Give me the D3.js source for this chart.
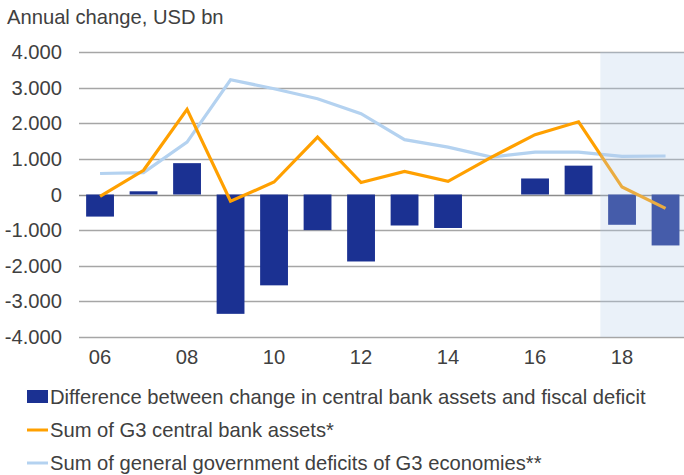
<!DOCTYPE html>
<html><head><meta charset="utf-8">
<script src="https://cdn.jsdelivr.net/npm/d3@7"></script>
<style>body{margin:0;background:#fff}svg{display:block}text{font-family:"Liberation Sans",Arial,sans-serif;fill:#404040}</style>
</head><body>
<script>
const years = ["06","07","08","09","10","11","12","13","14","15","16","17","18","19"];
const diffValues = [-620, 90, 880, -3350, -2550, -1000, -1880, -870, -940, 0, 450, 810, -850, -1430];
const cbAssets = [-50, 680, 2390, -190, 350, 1610, 335, 650, 370, 1050, 1680, 2040, 210, -390];
const govDeficits = [590, 615, 1470, 3220, 2970, 2690, 2270, 1540, 1330, 1050, 1190, 1190, 1070, 1080];
const yTicks = [4000, 3000, 2000, 1000, 0, -1000, -2000, -3000, -4000];
const yTickLabels = ["4.000","3.000","2.000","1.000","0","-1.000","-2.000","-3.000","-4.000"];
const xTickLabels = ["06","08","10","12","14","16","18"];
const forecastYears = ["18","19"];
const legendLabels = ["Difference between change in central bank assets and fiscal deficit","Sum of G3 central bank assets*","Sum of general government deficits of G3 economies**"];

const W = 684, H = 475, FS = 20.2;
const svg = d3.select("body").append("svg").attr("width", W).attr("height", H);
const x = d3.scaleBand().domain(years).range([78.3, 687.3]).paddingInner(0.36).paddingOuter(0.18);
const y = d3.scaleLinear().domain([-4000, 4000]).range([337, 52]);
const cx = d => x(d) + x.bandwidth() / 2;

svg.append("text").attr("x", 7).attr("y", 24).attr("font-size", FS).text("Annual change, USD bn");

// gridlines
svg.append("g").selectAll("line").data(yTicks).join("line")
  .attr("x1", 79).attr("x2", W).attr("y1", d => Math.round(y(d)) + 0.5).attr("y2", d => Math.round(y(d)) + 0.5)
  .attr("stroke", d => d === 0 ? "#8c8c8c" : "#a6a6a6").attr("stroke-width", 1.3);

svg.append("g").selectAll("text").data(yTicks).join("text")
  .attr("x", 62).attr("y", d => y(d) + 7).attr("text-anchor", "end").attr("font-size", FS)
  .text((d, i) => yTickLabels[i]);

svg.append("g").selectAll("text").data(xTickLabels).join("text")
  .attr("x", d => cx(d)).attr("y", 364).attr("text-anchor", "middle").attr("font-size", FS).text(d => d);

// bars
svg.append("g").selectAll("rect").data(years.map((yr, i) => ({yr, v: diffValues[i]})).filter(d => d.v !== 0)).join("rect")
  .attr("x", d => x(d.yr)).attr("width", x.bandwidth())
  .attr("y", d => y(Math.max(0, d.v))).attr("height", d => Math.abs(y(d.v) - y(0)))
  .attr("fill", "#1b3192");

const line = vals => d3.line().x((d, i) => cx(years[i])).y(d => y(d))(vals);
svg.append("path").attr("d", line(govDeficits)).attr("fill", "none").attr("stroke", "#b4d2f0").attr("stroke-width", 3.2);
svg.append("path").attr("d", line(cbAssets)).attr("fill", "none").attr("stroke", "#ffa000").attr("stroke-width", 3.2);

// forecast shading
const fx0 = x(forecastYears[0]) - x.step() * x.paddingInner() / 2;
svg.append("rect").attr("x", fx0).attr("y", 52).attr("width", W - fx0).attr("height", 337 - 52)
  .attr("fill", "#b4cdeb").attr("opacity", 0.28);

// legend
const lg = svg.append("g");
lg.append("rect").attr("x", 27).attr("y", 390).attr("width", 21).attr("height", 13).attr("fill", "#1b3192");
lg.append("line").attr("x1", 27).attr("x2", 48).attr("y1", 430).attr("y2", 430).attr("stroke", "#ffa000").attr("stroke-width", 3);
lg.append("line").attr("x1", 27).attr("x2", 48).attr("y1", 463).attr("y2", 463).attr("stroke", "#b4d2f0").attr("stroke-width", 3);
lg.selectAll("text").data(legendLabels).join("text")
  .attr("x", 50).attr("y", (d, i) => 404 + i * 33).attr("font-size", FS).text(d => d);
</script>
</body></html>
